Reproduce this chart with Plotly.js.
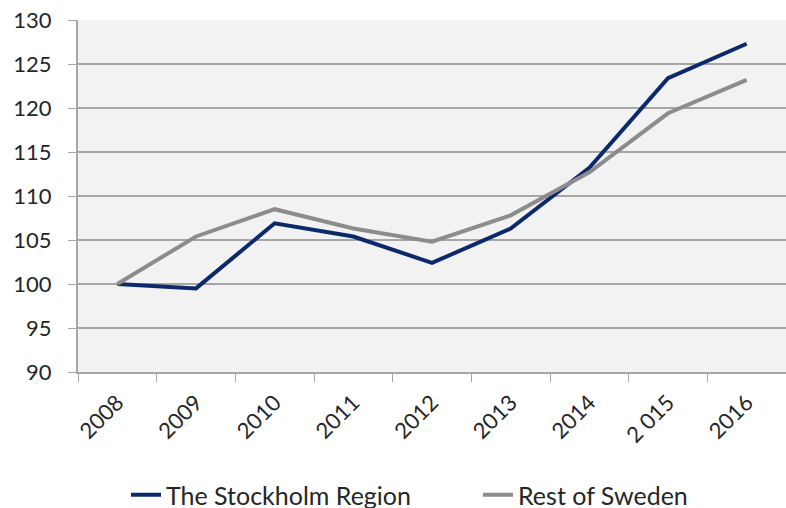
<!DOCTYPE html>
<html>
<head>
<meta charset="utf-8">
<script src="https://cdn.plot.ly/plotly-3.0.1.min.js"></script>
<style>html,body{margin:0;padding:0;background:#fff;}#chart{width:786px;height:508px;}</style>
</head>
<body>
<div id="chart"></div>
<script>
const years = ["2008", "2009", "2010", "2011", "2012", "2013", "2014", "2015", "2016"];
const tickLabels = ["2008", "2009", "2010", "2011", "2012", "2013", "2014", "2 015", "2016"];
const stockholm = [100, 99.5, 106.9, 105.4, 102.4, 106.3, 113.2, 123.4, 127.3];
const restOfSweden = [100, 105.4, 108.5, 106.3, 104.8, 107.8, 112.7, 119.4, 123.2];

const traces = [
  {x: years, y: stockholm, type: "scatter", mode: "lines", name: "The Stockholm Region",
   line: {color: "#0c2a6b", width: 4}, legend: "legend"},
  {x: years, y: restOfSweden, type: "scatter", mode: "lines", name: "Rest of Sweden",
   line: {color: "#8c8c8c", width: 4}, legend: "legend2"}
];
const font = {family: "Lato, 'Open Sans', sans-serif", size: 22, color: "#262626"};
const legendFont = {family: "Lato, 'Open Sans', sans-serif", size: 25, color: "#262626"};
const layout = {
  width: 786, height: 508,
  margin: {l: 78, r: 0, t: 20, b: 136},
  paper_bgcolor: "#ffffff", plot_bgcolor: "#f2f2f2",
  font: font,
  showlegend: true,
  legend: {orientation: "h", xref: "container", yref: "container", x: 126 / 786, xanchor: "left",
           y: 13 / 508, yanchor: "middle", font: legendFont, bgcolor: "rgba(0,0,0,0)"},
  legend2: {orientation: "h", xref: "container", yref: "container", x: 478 / 786, xanchor: "left",
            y: 13 / 508, yanchor: "middle", font: legendFont, bgcolor: "rgba(0,0,0,0)"},
  xaxis: {type: "category", tickvals: years, ticktext: tickLabels, tickangle: -45, automargin: false,
          showline: true, linecolor: "#a6a6a6", linewidth: 2, ticklabelstandoff: 7,
          ticks: "outside", tickson: "boundaries", ticklen: 8, tickcolor: "#a6a6a6",
          showgrid: false, zeroline: false, tickfont: font, range: [-0.5, 8.5]},
  yaxis: {range: [90, 130], dtick: 5, tick0: 90, automargin: false, ticklabelstandoff: 12,
          showline: true, linecolor: "#a6a6a6", linewidth: 2,
          ticks: "outside", ticklen: 8, tickcolor: "#a6a6a6",
          showgrid: true, gridcolor: "#a6a6a6", gridwidth: 1.5, zeroline: false, tickfont: font}
};
Plotly.newPlot("chart", traces, layout, {displayModeBar: false, staticPlot: true});
</script>
</body>
</html>
